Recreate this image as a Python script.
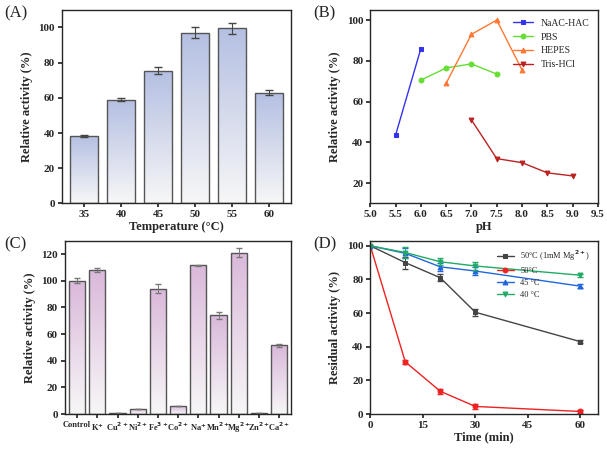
import numpy as np, pandas as pd, matplotlib
matplotlib.use("Agg")
import matplotlib.pyplot as plt, seaborn as sns
from matplotlib.colors import LinearSegmentedColormap

temps = ["35","40","45","50","55","60"]
temp_act = [38.5,59,75.5,97,99.5,63]
temp_err = [0.5,1,2,3,3,1.5]

ph_nac = [5.5,6.0]; act_nac = [43.5,86]
ph_pbs = [6.0,6.5,7.0,7.5]; act_pbs = [70.5,76.5,78.5,73.5]
ph_hep = [6.5,7.0,7.5,8.0]; act_hep = [69,93,100,75.5]
ph_tris = [7.0,7.5,8.0,8.5,9.0]; act_tris = [51,32,30,25,23.5]

ions = ["Control","K$^{+}$","Cu$^{2+}$","Ni$^{2+}$","Fe$^{3+}$","Co$^{2+}$","Na$^{+}$","Mn$^{2+}$","Mg$^{2+}$","Zn$^{2+}$","Ca$^{2+}$"]
ion_act = [100,108,0.5,4,94,6,111.5,74,121,0.5,51.5]
ion_err = [2,1.5,0,0,3.5,0,0.5,2.5,3.5,0,1]

times = [0,10,20,30,60]
res_mg = [100,90,81,60.5,43]; err_mg=[0,3.5,2,2,1]
res_50 = [100,31,13.5,4.5,1.5]; err_50=[0,1,1.5,1.5,1]
res_45 = [100,95.5,87.5,85,76]; err_45=[0,3,2.5,2.5,1]
res_40 = [100,96,90.5,88,82.5]; err_40=[0,3,2,2.5,1]

sns.set_theme(style="ticks")
plt.rcParams['font.family'] = ['Liberation Serif','DejaVu Serif']
plt.rcParams['font.weight'] = 'bold'
plt.rcParams['axes.labelweight'] = 'bold'
plt.rcParams['font.size'] = 8
plt.rcParams['xtick.labelsize'] = 8
plt.rcParams['ytick.labelsize'] = 8
plt.rcParams['mathtext.default'] = 'bf'

fig = plt.figure(figsize=(6.07,4.5), dpi=100)
axA = fig.add_axes([0.102,0.548,0.378,0.43])
axB = fig.add_axes([0.61,0.548,0.375,0.43])
axC = fig.add_axes([0.107,0.08,0.373,0.385])
axD = fig.add_axes([0.61,0.08,0.375,0.385])

def gradient_bars(ax, top_color):
    cmap = LinearSegmentedColormap.from_list("g", ["#f7f7f7", top_color])
    grad = np.linspace(0,1,256).reshape(-1,1)
    for p in ax.patches:
        x0,y0 = p.get_x(), p.get_y(); w,h = p.get_width(), p.get_height()
        p.set_facecolor("none"); p.set_edgecolor("#555555"); p.set_linewidth(1)
        im = ax.imshow(grad, extent=[x0,x0+w,y0,y0+h], origin="lower", cmap=cmap, aspect="auto", zorder=p.get_zorder()-0.1)
        im.set_clip_path(p)

# A
dfA = pd.DataFrame({"t":temps,"a":temp_act})
sns.barplot(data=dfA, x="t", y="a", ax=axA, width=0.75)
axA.errorbar(range(len(temps)), temp_act, yerr=temp_err, fmt="none", ecolor="#444", capsize=3, lw=0.8)
gradient_bars(axA, "#b4bfe2")
axA.set_xlim(-0.6,5.6); axA.set_ylim(0,110)
axA.set_yticks(range(0,101,20))
axA.set_xlabel("Temperature (°C)", fontsize=9, labelpad=1); axA.set_ylabel("Relative activity (%)", fontsize=9)

# B
for xs,ys,c,m,lab in [(ph_nac,act_nac,"#3333ee","s","NaAC-HAC"),(ph_pbs,act_pbs,"#66dd33","o","PBS"),
                      (ph_hep,act_hep,"#ff7733","^","HEPES"),(ph_tris,act_tris,"#bb2222","v","Tris-HCl")]:
    sns.lineplot(x=xs, y=ys, ax=axB, color=c, marker=m, markersize=3.5, markeredgecolor=c, lw=1, label=lab)
axB.set_xlim(5,9.5); axB.set_ylim(10,105)
axB.set_xticks(np.arange(5,9.6,0.5)); axB.set_yticks(range(20,101,20))
axB.set_xlabel("pH", fontsize=9, labelpad=1); axB.set_ylabel("Relative activity (%)", fontsize=9)
axB.legend(loc="upper right", frameon=False, prop={'weight':'normal','size':7})

# C
dfC = pd.DataFrame({"i":ions,"a":ion_act})
sns.barplot(data=dfC, x="i", y="a", ax=axC, width=0.8)
axC.errorbar(range(len(ions)), ion_act, yerr=ion_err, fmt="none", ecolor="#777", capsize=2, lw=0.7)
gradient_bars(axC, "#dab8da")
axC.set_xlim(-0.6,10.6); axC.set_ylim(0,130)
axC.set_yticks(range(0,121,20))
axC.set_xlabel(""); axC.set_ylabel("Relative activity (%)", fontsize=9)
axC.tick_params(axis='x', labelsize=6, pad=2)

# D
for ys,es,c,m,lab in [(res_mg,err_mg,"#444444","s","50°C (1mM Mg$^{2+}$)"),(res_50,err_50,"#ee2222","o","50°C"),
                      (res_45,err_45,"#2266dd","^","45 °C"),(res_40,err_40,"#22aa66","v","40 °C")]:
    sns.lineplot(x=times, y=ys, ax=axD, color=c, marker=m, markersize=3.5, markeredgecolor=c, lw=1, label=lab)
    axD.errorbar(times, ys, yerr=es, fmt="none", ecolor=c, capsize=2, lw=0.7)
axD.set_xlim(0,65); axD.set_ylim(0,103)
axD.set_xticks([0,15,30,45,60]); axD.set_yticks(range(0,101,20))
axD.set_xlabel("Time (min)", fontsize=9, labelpad=1); axD.set_ylabel("Residual activity (%)", fontsize=9)
axD.legend(loc="upper right", frameon=False, prop={'weight':'normal','size':6})

for ax,l,x in [(axA,"(A)",-0.25),(axB,"(B)",-0.25),(axC,"(C)",-0.27),(axD,"(D)",-0.25)]:
    ax.text(x,0.98,l,transform=ax.transAxes,fontsize=12,fontweight='normal',va='center')
    ax.tick_params(direction="out", length=3, pad=2)
    for s in ax.spines.values(): s.set_linewidth(1)

fig.savefig("out.png", dpi=100)
